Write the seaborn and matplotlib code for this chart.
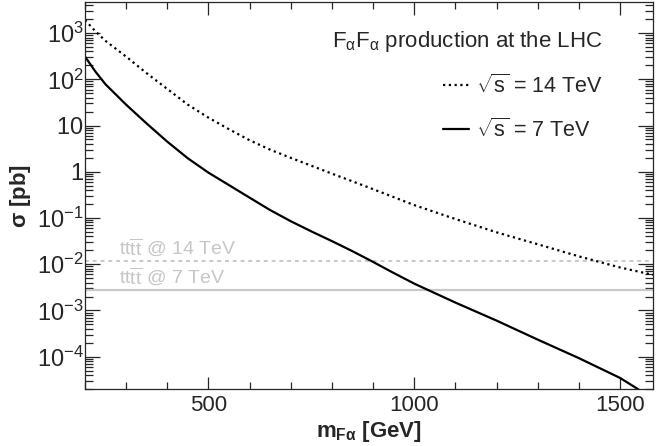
import numpy as np
import pandas as pd
import matplotlib
matplotlib.use("Agg")
import matplotlib.pyplot as plt
import seaborn as sns
from matplotlib.ticker import FixedLocator, FuncFormatter, LogLocator, NullFormatter, MultipleLocator

# cross sections (pb)
mass_14 = [200, 225, 250, 300, 350, 400, 450, 500, 550, 600, 650, 700, 750, 800, 850, 900,
           1000, 1100, 1200, 1300, 1400, 1500, 1580]
xsec_14 = [1905, 1100, 676, 309, 135, 61.7, 28.2, 14.8, 8.3, 4.8, 3.0, 2.0, 1.35, 0.91, 0.62, 0.42,
           0.19, 0.095, 0.049, 0.027, 0.0148, 0.0085, 0.0059]

mass_7 = [200, 225, 250, 300, 350, 400, 450, 500, 550, 600, 650, 700, 750, 800, 850, 900, 950,
          1000, 1100, 1200, 1300, 1400, 1500, 1545]
xsec_7 = [309, 148, 77.6, 28.2, 11.0, 4.47, 1.95, 0.955, 0.513, 0.275, 0.148, 0.0851, 0.0513, 0.0316,
          0.0191, 0.0112, 6.46e-3, 3.80e-3, 1.48e-3, 6.03e-4, 2.34e-4, 9.3e-5, 3.47e-5, 1.95e-5]

# four-top reference cross sections
tttt_labels = ["14 TeV", "7 TeV"]
tttt_xsec = [1.16e-2, 2.8e-3]

y_major = [1e-4, 1e-3, 1e-2, 1e-1, 1, 10, 1e2, 1e3]

sns.set_style("ticks")
plt.rcParams['font.family'] = ['Liberation Sans', 'DejaVu Sans']
plt.rcParams['mathtext.fontset'] = 'custom'
plt.rcParams['mathtext.rm'] = 'Liberation Sans'
plt.rcParams['mathtext.it'] = 'Liberation Sans'
plt.rcParams['mathtext.sf'] = 'Liberation Sans'
plt.rcParams['mathtext.bf'] = 'Liberation Sans:bold'

df14 = pd.DataFrame({"mass": mass_14, "xsec": xsec_14})
df7 = pd.DataFrame({"mass": mass_7, "xsec": xsec_7})

fig, ax = plt.subplots(figsize=(6.56, 4.46), dpi=100)
fig.subplots_adjust(left=0.1296, right=0.9954, bottom=0.1278, top=0.9955)

# gray reference lines
gray = "#c8c8c8"
ax.axhline(tttt_xsec[0], color=gray, lw=1.4, linestyle=(0, (2, 2)), zorder=1)
ax.axhline(tttt_xsec[1], color=gray, lw=1.6, linestyle="-", zorder=1)
for lab, val in zip(tttt_labels, tttt_xsec):
    ax.text(283, val * 1.12, r"$\mathregular{tt\overline{tt}}$ @ " + lab, color="#c6c6c6",
            fontsize=14, ha="left", va="bottom")

sns.lineplot(data=df14, x="mass", y="xsec", ax=ax, color="black", lw=1.6,
             linestyle=(0, (1, 1.6)), estimator=None, sort=False,
             label=r"$\sqrt{\mathregular{s}}$ = 14 TeV")
sns.lineplot(data=df7, x="mass", y="xsec", ax=ax, color="black", lw=1.6,
             linestyle="-", estimator=None, sort=False,
             label=r"$\sqrt{\mathregular{s}}$ = 7 TeV")

ax.set_yscale("log")
ax.set_xlim(200, 1580)
ax.set_ylim(2e-5, 4.7e3)


def ylab(v, pos):
    e = int(round(np.log10(v)))
    if e == 0:
        return r"$\mathregular{1}\ \,$"
    if e == 1:
        return r"$\mathregular{10}\ \,$"
    return r"$\mathregular{10^{%d}}$" % e


ax.yaxis.set_major_locator(FixedLocator(y_major))
ax.yaxis.set_major_formatter(FuncFormatter(ylab))
ax.yaxis.set_minor_locator(LogLocator(base=10, subs=np.arange(2, 10), numticks=20))
ax.yaxis.set_minor_formatter(NullFormatter())
ax.xaxis.set_major_locator(MultipleLocator(500))
ax.xaxis.set_minor_locator(MultipleLocator(100))

ax.tick_params(which="both", direction="in", top=True, right=True, width=0.9)
ax.tick_params(axis="x", which="major", length=9, pad=4, labelsize=16)
ax.tick_params(axis="x", which="minor", length=4.8)
ax.tick_params(axis="y", which="major", length=11, pad=1, labelsize=17)
ax.tick_params(axis="y", which="minor", length=6)
for s in ax.spines.values():
    s.set_linewidth(0.9)

ax.set_xlabel(r"m$_{\mathregular{F\alpha}}$ [GeV]", fontsize=16, fontweight="bold")
ax.set_ylabel(r"$\mathregular{\sigma}$ [pb]", fontsize=16, fontweight="bold")
ax.xaxis.set_label_coords(0.5, -0.077)
ax.yaxis.set_label_coords(-0.092, 0.5)

leg = ax.legend(loc="upper right", bbox_to_anchor=(0.945, 0.98), frameon=False,
                title=r"F$_{\alpha}$F$_{\alpha}$ production at the LHC",
                fontsize=15.5, title_fontsize=16, alignment="right",
                handlelength=1.2, handletextpad=0.3, labelspacing=0.95)

plt.savefig("out.png", dpi=100)
